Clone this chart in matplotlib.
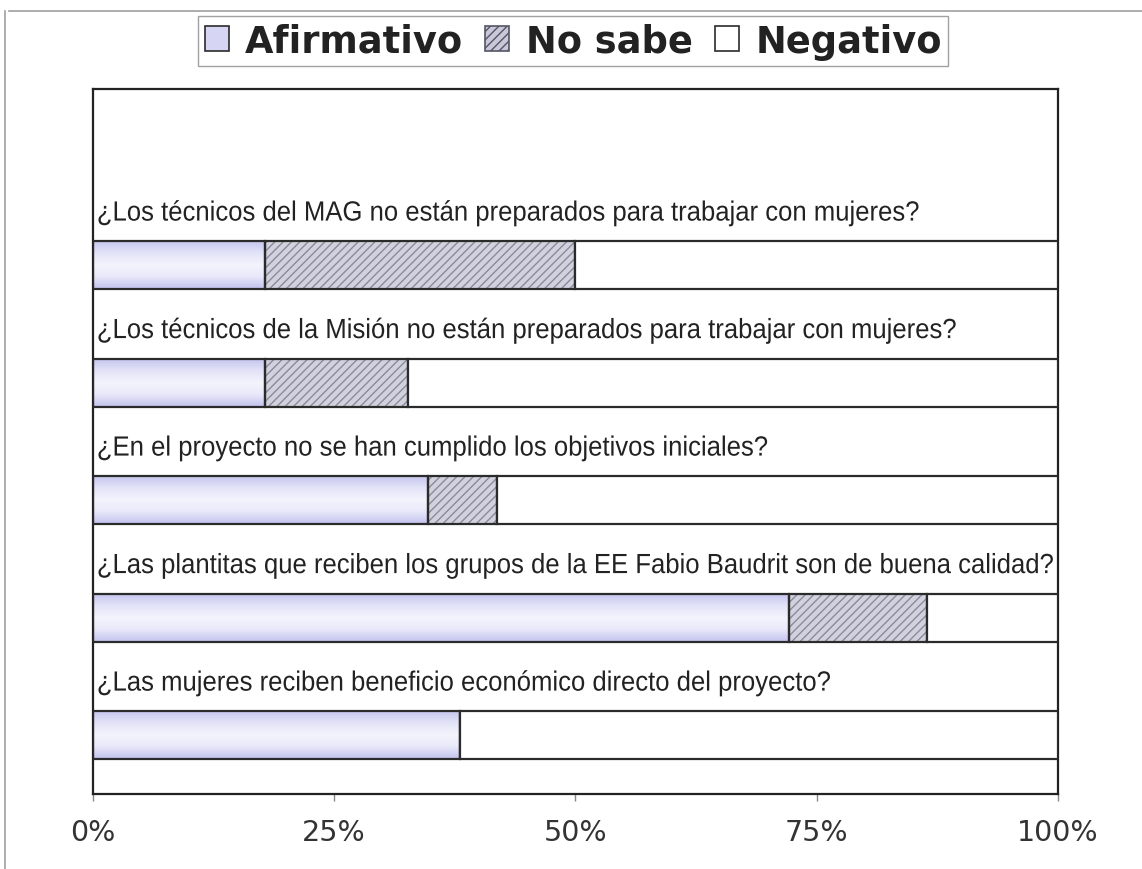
import numpy as np
import matplotlib.pyplot as plt
from matplotlib.colors import LinearSegmentedColormap
from matplotlib.patches import Patch
from matplotlib.lines import Line2D
from matplotlib.patheffects import AbstractPathEffect
from matplotlib.transforms import Affine2D

# --- datos (de arriba hacia abajo) ---
preguntas = [
    '¿Los técnicos del MAG no están preparados para trabajar con mujeres?',
    '¿Los técnicos de la Misión no están preparados para trabajar con mujeres?',
    '¿En el proyecto no se han cumplido los objetivos iniciales?',
    '¿Las plantitas que reciben los grupos de la EE Fabio Baudrit son de buena calidad?',
    '¿Las mujeres reciben beneficio económico directo del proyecto?',
]
afirmativo = [17.8, 17.8, 34.7, 72.1, 38.0]
no_sabe = [32.2, 14.8, 7.2, 14.3, 0.0]
negativo = [50.0, 67.4, 58.1, 13.6, 62.0]
series = ['Afirmativo', 'No sabe', 'Negativo']
ticks = [0, 25, 50, 75, 100]
tick_labels = ['0%', '25%', '50%', '75%', '100%']

borde = '#2b2b2b'
lavanda = '#d6d6f4'


class Estrechar(AbstractPathEffect):
    # comprime el texto en horizontal (imita Arial Narrow)
    def __init__(self, sx):
        super().__init__()
        self.sx = sx

    def draw_path(self, renderer, gc, tpath, affine, rgbFace=None):
        x0, y0 = affine.transform((0, 0))
        t = Affine2D().translate(-x0, 0).scale(self.sx, 1).translate(x0, 0)
        renderer.draw_path(gc, tpath, affine + t, rgbFace)


fig = plt.figure(figsize=(11.42, 8.7), dpi=100)
ax = fig.add_axes([0.0814, 0.0862, 0.8450, 0.8104])

n = len(preguntas)
y = np.arange(n)[::-1]
h = 0.41

afirm = np.array(afirmativo)
ns = np.array(no_sabe)
neg = np.array(negativo)

# Afirmativo: relleno degradado recortado a cada barra
grad = LinearSegmentedColormap.from_list(
    'lav', ['#c4c4ee', '#e2e2f8', '#f4f4fd', '#e8e8fa', '#c2c2ee'])
barras_a = ax.barh(y, afirm, height=h, color='none', edgecolor=borde, lw=1.6, zorder=4)
for b in barras_a:
    x0, y0 = b.get_x(), b.get_y()
    w, hh = b.get_width(), b.get_height()
    im = ax.imshow(np.linspace(0, 1, 100).reshape(-1, 1), cmap=grad, aspect='auto',
                   extent=[x0, x0 + w, y0, y0 + hh], origin='upper', zorder=2)
    im.set_clip_path(b)

# No sabe: rayado
ax.barh(y, ns, left=afirm, height=h, color='#d2d2de', edgecolor='#8a8a9c',
        hatch='////', lw=0, zorder=2)
ax.barh(y, ns, left=afirm, height=h, fill=False, edgecolor=borde, lw=1.6, zorder=4)

# Negativo: blanco
ax.barh(y, neg, left=afirm + ns, height=h, color='white', edgecolor=borde, lw=1.6, zorder=4)

# textos de las preguntas
for yi, q in zip(y, preguntas):
    ax.text(0.4, yi + 0.38, q, ha='left', va='baseline', fontsize=20,
            family='Liberation Sans', color='#222222', zorder=5,
            path_effects=[Estrechar(0.925)])

ax.set_xlim(0, 100)
ax.set_ylim(-0.5, n + 0.5)
ax.set_yticks([])
ax.set_xticks(ticks, tick_labels)
ax.tick_params(axis='x', length=5, width=1, color='#888888', pad=12,
               labelsize=20.5, labelcolor='#333333')
for s in ax.spines.values():
    s.set_color('#222222')
    s.set_linewidth(1.6)

# leyenda
handles = [
    Patch(facecolor=lavanda, edgecolor=borde, lw=1.2),
    Patch(facecolor='#c8c8d8', edgecolor='#555566', hatch='////', lw=1.2),
    Patch(facecolor='white', edgecolor=borde, lw=1.2),
]
leg = fig.legend(handles, series, loc='upper center', bbox_to_anchor=(0.502, 0.9805),
                 ncol=3, frameon=True, fancybox=False, borderpad=0.18,
                 handlelength=0.65, handleheight=0.65, handletextpad=0.45,
                 columnspacing=0.6, borderaxespad=0,
                 prop={'family': 'DejaVu Sans', 'weight': 'bold', 'size': 26.5})
leg.get_frame().set_edgecolor('#8a8a8a')
leg.get_frame().set_linewidth(1.0)
for t in leg.get_texts():
    t.set_color('#222222')

# borde de la figura
fig.add_artist(Line2D([0.008, 1], [0.986, 0.986], color='#a0a0a0', lw=1.2))
fig.add_artist(Line2D([0.0045, 0.0045], [0, 0.986], color='#a0a0a0', lw=1.2))

fig.savefig('out.png', dpi=100)
